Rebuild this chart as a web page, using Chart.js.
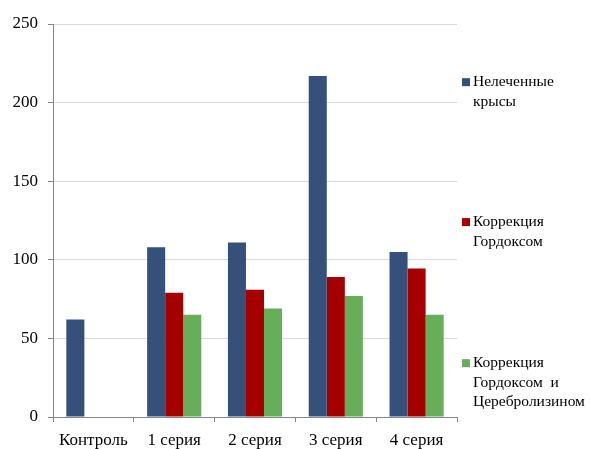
<!DOCTYPE html>
<html>
<head>
<meta charset="utf-8">
<script src="https://cdn.jsdelivr.net/npm/chart.js@4/dist/chart.umd.min.js"></script>
<style>
  html, body { margin: 0; padding: 0; background: #fff; }
  #wrap { width: 590px; height: 449px; }
</style>
</head>
<body>
<div id="wrap"><canvas id="c" width="590" height="449"></canvas></div>
<script>
const categories = ['Контроль', '1 серия', '2 серия', '3 серия', '4 серия'];
const untreated = [62, 108, 111, 217, 105];
const gordox = [null, 79, 81, 89, 94.5];
const gordoxCerebrolysin = [null, 65, 69, 77, 65];
const seriesNames = [
  ['Нелеченные', 'крысы'],
  ['Коррекция', 'Гордоксом'],
  ['Коррекция', 'Гордоксом  и', 'Церебролизином']
];
const yTicks = [0, 50, 100, 150, 200, 250];

const colors = ['#35507A', '#A40000', '#66AE5A'];
const font = 'Liberation Serif, Times New Roman, serif';

// Legend drawn at the right, one entry per series, spread down the plot height
const sideLegend = {
  id: 'sideLegend',
  afterDraw(chart) {
    const { ctx, chartArea } = chart;
    const h = chartArea.bottom - chartArea.top;
    const rows = [0.148, 0.504, 0.863];
    ctx.save();
    ctx.font = '15.5px ' + font;
    ctx.textBaseline = 'middle';
    chart.data.datasets.forEach((ds, i) => {
      const y0 = chartArea.top + h * rows[i];
      const x0 = chartArea.right + 5;
      ctx.fillStyle = ds.backgroundColor;
      ctx.fillRect(x0, y0 - 4, 8, 8);
      ctx.fillStyle = '#000';
      ds.legendLines.forEach((line, k) => {
        ctx.fillText(line, x0 + 11, y0 + k * 19.5);
      });
    });
    ctx.restore();
  }
};

new Chart(document.getElementById('c'), {
  type: 'bar',
  data: {
    labels: categories,
    datasets: [
      { label: seriesNames[0].join(' '), legendLines: seriesNames[0], data: untreated, backgroundColor: colors[0] },
      { label: seriesNames[1].join(' '), legendLines: seriesNames[1], data: gordox, backgroundColor: colors[1] },
      { label: seriesNames[2].join(' '), legendLines: seriesNames[2], data: gordoxCerebrolysin, backgroundColor: colors[2] }
    ]
  },
  options: {
    responsive: false,
    animation: false,
    layout: { padding: { top: 24, right: 133, left: 4, bottom: 0 } },
    datasets: { bar: { categoryPercentage: 0.67, barPercentage: 1.0 } },
    plugins: {
      legend: { display: false },
      tooltip: { enabled: false }
    },
    scales: {
      x: {
        grid: { offset: true, drawOnChartArea: false, color: '#868686', tickLength: 5 },
        border: { color: '#868686' },
        ticks: { color: '#000', font: { family: font, size: 17 }, padding: 8 },
        afterFit(axis) { axis.height = 32; }
      },
      y: {
        min: 0,
        max: 250,
        afterBuildTicks(axis) { axis.ticks = yTicks.map(v => ({ value: v })); },
        grid: { color: '#D9D9D9', tickColor: '#868686', tickLength: 5 },
        border: { color: '#868686' },
        ticks: { color: '#000', font: { family: font, size: 17 }, padding: 10 },
        afterFit(axis) { axis.width = 49; }
      }
    }
  },
  plugins: [sideLegend]
});
</script>
</body>
</html>
